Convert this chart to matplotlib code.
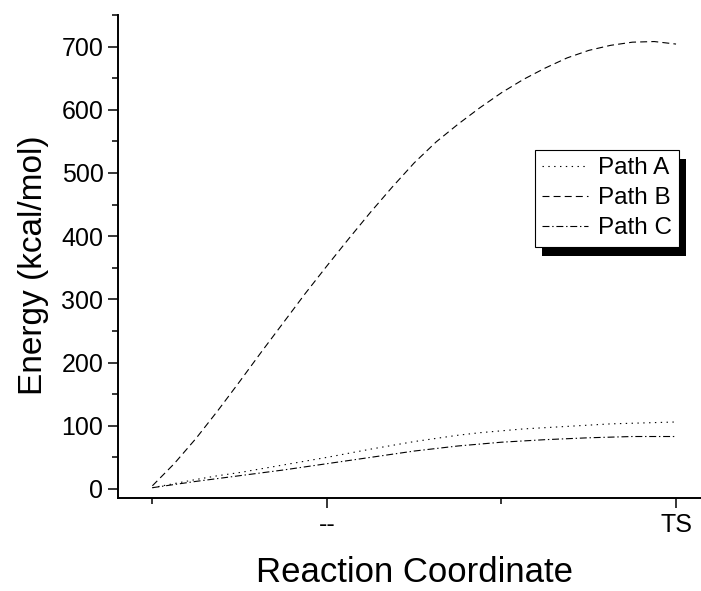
import matplotlib
matplotlib.use("Agg")
import matplotlib.pyplot as plt
from matplotlib.patches import Rectangle
from matplotlib.transforms import IdentityTransform

plt.rcParams['font.family'] = ['Liberation Sans', 'DejaVu Sans']
plt.rcParams['lines.scale_dashes'] = False

x = [0, 0.125, 0.25, 0.375, 0.5, 0.625, 0.75, 0.875, 1.0, 1.125, 1.25, 1.375, 1.5,
     1.625, 1.75, 1.875, 2.0, 2.125, 2.25, 2.375, 2.5, 2.625, 2.75, 2.875, 3.0]
path_a = [2, 8.5, 15, 21, 26, 32, 38, 44, 50, 56.5, 63, 69, 75,
          80, 85, 89, 92, 95, 97, 99, 101, 103, 104, 105, 106]
path_b = [5, 40, 80, 124, 170, 217, 263, 309, 353, 396, 438, 478, 516,
          549, 577, 603, 627, 648, 666, 682, 694, 702, 707, 708, 704]
path_c = [2, 7, 12, 16.5, 21, 25.5, 30, 35, 40, 45, 50, 55, 60,
          64, 68, 71, 74, 76, 78, 79.5, 81, 82, 83, 83, 83]
labels = ['Path A', 'Path B', 'Path C']
x_major = [1, 3]
x_major_labels = ['--', 'TS']
x_minor = [0, 2]

W, H = 701, 591
fig = plt.figure(figsize=(W / 100, H / 100), dpi=100)
ax = fig.add_axes([118 / W, 93 / H, 583 / W, 483 / H])

lw = 0.8
la, = ax.plot(x, path_a, color='black', lw=lw, dashes=(1.0, 3.2), label=labels[0])
lb, = ax.plot(x, path_b, color='black', lw=lw, dashes=(5, 3), label=labels[1])
lc, = ax.plot(x, path_c, color='black', lw=lw, dashes=(5, 2, 1, 2), label=labels[2])

ax.set_xlim(-0.197, 3.143)
ax.set_ylim(-14.3, 750)

for s in ['top', 'right']:
    ax.spines[s].set_visible(False)
for s in ['left', 'bottom']:
    ax.spines[s].set_linewidth(1.4)

ax.set_yticks(range(0, 701, 100))
ax.set_yticks(range(50, 751, 100), minor=True)
ax.set_xticks(x_major)
ax.set_xticklabels(x_major_labels)
ax.set_xticks(x_minor, minor=True)
ax.tick_params(which='major', direction='out', length=7, width=1.1, labelsize=18, pad=3.5)
ax.tick_params(which='minor', direction='out', length=4.5, width=1.1)

fig.text(34 / W, 1 - 265 / H, 'Energy (kcal/mol)', rotation=90, ha='center', va='center', fontsize=24)
fig.text(414 / W, 1 - 572 / H, 'Reaction Coordinate', ha='center', va='center', fontsize=25)

leg = ax.legend(handles=[la, lb, lc], loc='upper right',
                bbox_to_anchor=((679 - 118) / 583, (498 - 150) / 483),
                borderaxespad=0, fancybox=False, framealpha=1, edgecolor='black',
                fontsize=17.5, handlelength=1.9, handletextpad=0.4,
                labelspacing=0.33, borderpad=0.3)
leg.get_frame().set_linewidth(0.8)
leg.set_zorder(6)

fig.canvas.draw()
bb = leg.get_frame().get_window_extent()
shadow = Rectangle((bb.x0 + 7, bb.y0 - 9), bb.width, bb.height,
                   transform=IdentityTransform(), facecolor='black',
                   edgecolor='none', zorder=5, clip_on=False)
ax.add_artist(shadow)

fig.savefig('out.png', dpi=100)
